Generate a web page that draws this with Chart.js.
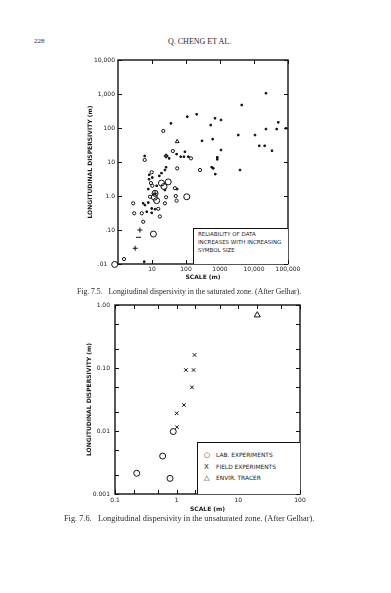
<!DOCTYPE html>
<html>
<head>
<meta charset="utf-8">
<script src="https://cdn.jsdelivr.net/npm/chart.js@4.4.0/dist/chart.umd.min.js"></script>
<style>
  html, body { margin: 0; padding: 0; background: #fff; }
  body { width: 391px; height: 593px; position: relative; overflow: hidden; color: #2a2a2a; font-family: "Liberation Serif", serif; }
  .t { position: absolute; white-space: nowrap; }
  .wrap { position: absolute; left: 0; width: 391px; height: 240px; }
  .box { position: absolute; background: #fff; border-top: 1px solid #111; border-left: 1px solid #111; font-family: "DejaVu Sans", sans-serif; color: #1a1a1a; }
</style>
</head>
<body>
<div class="t" style="left:34px;top:37px;font-size:7px;">228</div>
<div class="t" style="left:168px;top:37px;font-size:8px;">Q. CHENG ET AL.</div>

<div class="wrap" style="top:50px;"><canvas id="sat" width="391" height="240"></canvas></div>
<div class="box" style="left:193px;top:228px;width:95px;height:36px;font-size:5.5px;line-height:8px;padding:1px 0 0 4px;box-sizing:border-box;">
  RELIABILITY OF DATA<br>INCREASES WITH INCREASING<br>SYMBOL SIZE
</div>
<div class="t" style="left:77px;top:287px;font-size:7.7px;">Fig. 7.5.&nbsp;&nbsp; Longitudinal dispersivity in the saturated zone. (After Gelhar).</div>

<div class="wrap" style="top:295px;"><canvas id="unsat" width="391" height="240"></canvas></div>
<div class="box" style="left:197px;top:442px;width:103px;height:52px;font-size:5.9px;line-height:11.5px;padding:7px 0 0 6px;box-sizing:border-box;">
  <span style="display:inline-block;width:12px;font-size:7px;">○</span>LAB. EXPERIMENTS<br>
  <span style="display:inline-block;width:12px;font-size:7px;">X</span>FIELD EXPERIMENTS<br>
  <span style="display:inline-block;width:12px;font-size:7px;">△</span>ENVIR. TRACER
</div>
<div class="t" style="left:64px;top:514px;font-size:8.3px;">Fig. 7.6.&nbsp;&nbsp; Longitudinal dispersivity in the unsaturated zone. (After Gelhar).</div>

<script>
/* ---------- Fig 7.5 data (saturated zone), [scale m, dispersivity m] ---------- */
const satDots = [
  [36,137],[109,215],[206,253],[713,193],[1070,172],[533,122],[296,42],[610,47],
  [3450,62],[4350,475],[22500,1050],[10700,62],[22500,93],[51800,147],[46500,93],[87000,98],
  [14300,30],[20600,30],[33800,21.5],[1070,22.5],[833,13.7],[833,12],[3880,5.8],[570,7],
  [727,4.4],[635,6.5],[93,20],[87,14.3],[117,14.3],[53,17],[32,12.8],[70,14.3],[6.1,15],
  [26,7],[16.4,3.9],[8.2,3.1],[55,1.6],[24,5.8],[19,4.7],[8.3,4.2],[10.2,3.5],[13.7,2.0],
  [24,1.5],[7.8,1.6],[5.5,0.61],[6.2,0.54],[7.8,0.64],[12.3,0.41],[9.8,0.43],[7,0.345],
  [9.8,0.32],[5.9,0.0117]
];
const satSmallCircles = [
  [21.5,82],[258,5.8],[140,12.8],[41,21],[55,6.5],[6.1,11.5],[9.8,5],[10.2,2.0],[9.3,2.4],
  [47,1.7],[8.7,0.95],[26,0.92],[50,1.0],[53,0.73],[2.8,0.61],[24,0.61],[15.3,0.42],
  [3.0,0.31],[5.0,0.31],[5.5,0.175],[17,0.25],[1.5,0.014],[26,15]
];
const satLargeCircles = [
  [19,2.4],[30,2.6],[22.5,1.9],[12.3,1.2],[11.7,0.92],[13.7,0.73],[105,0.95],[11,0.076],[0.8,0.0097]
];
const satPlus = [[4.4,0.1],[3.2,0.029],[26,15],[12.3,1.2]];
const satTriangles = [[55,40]];
const satDashes = [[4,0.061]];

const satXTicks = [1, 10, 100, 1000, 10000, 100000];
const satXLabels = ["", "10", "100", "1000", "10,000", "100,000"];
const satYTicks = [0.01, 0.1, 1, 10, 100, 1000, 10000];
const satYLabels = [".01", ".10", "1.0", "10", "100", "1,000", "10,000"];

/* ---------- Fig 7.6 data (unsaturated zone) ---------- */
const labExp = [[0.225,0.00213],[0.593,0.004],[0.78,0.00177],[0.88,0.0098]];
const fieldExp = [[1.01,0.0115],[1.0,0.0191],[1.31,0.0259],[1.77,0.0494],[1.41,0.093],[1.88,0.093],[1.95,0.161]];
const envTracer = [[20.3,0.69]];

const unsatXTicks = [0.1, 0.2, 0.5, 1, 2, 5, 10, 20, 50, 100];
const unsatXLabels = { 0.1: "0.1", 1: "1", 10: "10", 100: "100" };
const unsatYTicks = [0.001, 0.002, 0.005, 0.01, 0.02, 0.05, 0.1, 0.2, 0.5, 1];
const unsatYLabels = { 0.001: "0.001", 0.01: "0.01", 0.1: "0.10", 1: "1.00" };

Chart.defaults.font.family = "DejaVu Sans";
Chart.defaults.color = "#1a1a1a";

const pts = (a) => a.map(([x, y]) => ({ x, y }));
const INK = "#111";

// box frame + inward tick marks on all four sides
const boxTicks = {
  id: "boxTicks",
  beforeDatasetsDraw(chart, args, o) {
    const { ctx, chartArea: a, scales: { x, y } } = chart;
    ctx.save();
    ctx.strokeStyle = INK;
    ctx.lineWidth = 1;
    ctx.beginPath();
    o.xTicks.forEach(v => {
      const p = Math.round(x.getPixelForValue(v)) + 0.5;
      ctx.moveTo(p, a.bottom); ctx.lineTo(p, a.bottom - o.len);
      ctx.moveTo(p, a.top); ctx.lineTo(p, a.top + o.len);
    });
    o.yTicks.forEach(v => {
      const p = Math.round(y.getPixelForValue(v)) + 0.5;
      ctx.moveTo(a.left, p); ctx.lineTo(a.left + o.len, p);
      ctx.moveTo(a.right, p); ctx.lineTo(a.right - o.len, p);
    });
    ctx.stroke();
    ctx.lineWidth = 1.4;
    ctx.strokeRect(a.left, a.top, a.right - a.left, a.bottom - a.top);
    ctx.restore();
  }
};

function logAxis(min, max, ticks, label, size, title, tpad) {
  return {
    type: "logarithmic", min, max,
    grid: { display: false, drawTicks: false }, border: { display: false },
    afterBuildTicks: (s) => { s.ticks = ticks.map(v => ({ value: v })); },
    afterFit: (s) => { if (s.isHorizontal()) s.height = size; else s.width = size; },
    ticks: { autoSkip: false, maxRotation: 0, padding: tpad, font: { size: 6 }, color: "#1a1a1a", callback: (v) => label(v) },
    title: { display: true, text: title, font: { size: 6, weight: "bold" }, padding: 0, color: "#1a1a1a" },
  };
}

function ds(data, style, r, fill) {
  return {
    data: pts(data), pointStyle: style, pointRadius: r, pointHoverRadius: r,
    borderColor: INK, backgroundColor: fill ? INK : "rgba(0,0,0,0)", pointBorderWidth: 1, clip: false,
  };
}

new Chart(document.getElementById("sat"), {
  type: "scatter",
  data: {
    datasets: [
      ds(satDots, "rect", 1.1, true),
      ds(satSmallCircles, "circle", 1.6, false),
      ds(satLargeCircles, "circle", 3, false),
      ds(satPlus, "cross", 2.5, false),
      ds(satTriangles, "triangle", 2.2, false),
      ds(satDashes, "line", 2.5, false),
    ],
  },
  options: {
    responsive: false, animation: false, devicePixelRatio: 1,
    layout: { padding: { left: 87, right: 103, top: 10, bottom: 9 } },
    plugins: {
      legend: { display: false }, tooltip: { enabled: false },
      boxTicks: { xTicks: satXTicks.slice(1), yTicks: satYTicks, len: 4 },
    },
    scales: {
      x: logAxis(1, 100000, satXTicks, (v) => satXLabels[satXTicks.indexOf(v)] || "", 17, "SCALE (m)", 2),
      y: {
        ...logAxis(0.01, 10000, satYTicks, (v) => satYLabels[satYTicks.indexOf(v)] || "", 31, "LONGITUDINAL DISPERSIVITY (m)", 3),
        // the corner circle sits where ".01" would end, push that one label left
        afterTickToLabelConversion: (s) => { s.ticks[0].label = satYLabels[0] + "    "; },
      },
    },
  },
  plugins: [boxTicks],
});

new Chart(document.getElementById("unsat"), {
  type: "scatter",
  data: {
    datasets: [
      ds(labExp, "circle", 3, false),
      ds(fieldExp, "crossRot", 2.5, false),
      ds(envTracer, "triangle", 3.5, false),
    ],
  },
  options: {
    responsive: false, animation: false, devicePixelRatio: 1,
    layout: { padding: { left: 86, right: 91, top: 10, bottom: 22 } },
    plugins: {
      legend: { display: false }, tooltip: { enabled: false },
      boxTicks: { xTicks: unsatXTicks, yTicks: unsatYTicks, len: 4 },
    },
    scales: {
      x: logAxis(0.1, 100, unsatXTicks, (v) => unsatXLabels[v] || "", 19, "SCALE (m)", 3),
      y: logAxis(0.001, 1, unsatYTicks, (v) => unsatYLabels[v] || "", 29, "LONGITUDINAL DISPERSIVITY (m)", 5),
    },
  },
  plugins: [boxTicks],
});
</script>
</body>
</html>
